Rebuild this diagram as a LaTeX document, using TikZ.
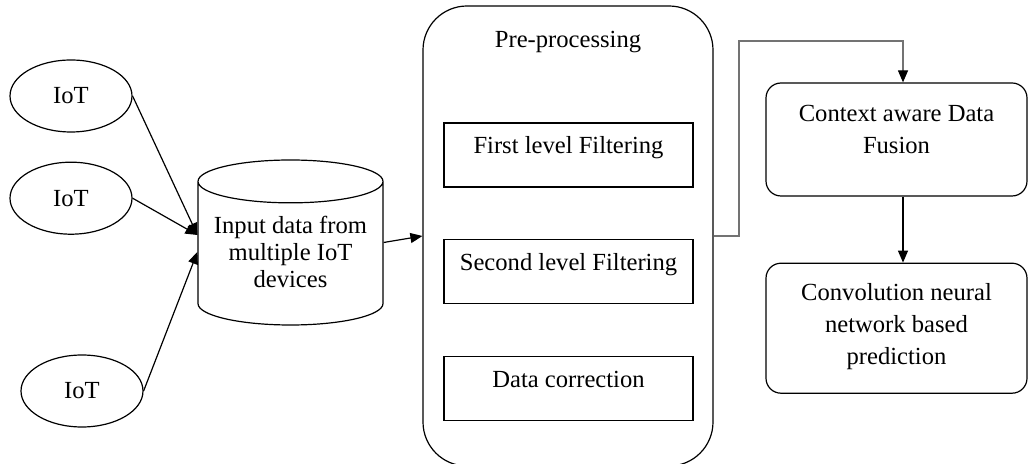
\documentclass[tikz,border=0pt]{standalone}
\usepackage{fontspec}
\setmainfont{Liberation Serif}
\usetikzlibrary{shapes.geometric, arrows.meta, positioning}

\begin{document}
\begin{tikzpicture}[x=0.5pt, y=-0.5pt, font=\fontsize{12.3pt}{14pt}\selectfont]
\tikzstyle{iotnode} = [ellipse, draw, line width=0.6pt, minimum width=61pt, minimum height=36pt, inner sep=0pt]
\tikzstyle{dbnode} = [cylinder, draw, line width=0.6pt, shape border rotate=90, aspect=0.28, minimum width=92.5pt, minimum height=82.5pt, align=center, inner sep=0pt, text height=34pt, text depth=0pt, font=\fontsize{12.3pt}{13.5pt}\selectfont]
\tikzstyle{prebox} = [rectangle, draw, line width=0.6pt, rounded corners=22pt, minimum width=145pt, minimum height=230pt]
\tikzstyle{filterbox} = [rectangle, draw, line width=0.6pt, minimum width=124.5pt, inner ysep=0pt, text height=15.5pt, text depth=16.5pt]
\tikzstyle{stagebox} = [rectangle, draw, line width=0.6pt, rounded corners=7.5pt, minimum width=130.5pt, align=center, font=\fontsize{12.3pt}{16pt}\selectfont]
\tikzstyle{arrow} = [line width=0.6pt, ->, >={Triangle[length=6pt, width=5pt, color=black]}]

\useasboundingbox (0,0) rectangle (1028,464);

\node (iot1) [iotnode] at (71,96) {IoT};
\node (iot2) [iotnode, below=14.5pt of iot1] {IoT};
\node (iot3) [iotnode] at (82,391) {IoT};
\node (input) [dbnode, anchor=shape center] at (290.5,242.5) {Input data from\\multiple IoT\\devices};
\coordinate (dbin) at (input.west |- input.shape center);
\coordinate (dbout) at (input.east |- input.shape center);

\node (pre) [prebox] at (568,236) {};
\node (pretitle) at (568,42) {Pre-processing};
\node (filter1) [filterbox] at (568.5,155) {First level Filtering};
\node (filter2) [filterbox, below=25.5pt of filter1] {Second level Filtering};
\node (correct) [filterbox, below=26pt of filter2] {Data correction};

\node (fusion) [stagebox, minimum height=56.5pt] at (896.5,139.5) {Context aware Data\\Fusion\\[-6pt]\mbox{}};
\node (cnn) [stagebox, minimum height=65pt, below=33pt of fusion] {Convolution neural\\network based\\prediction\\[-12pt]\mbox{}};
\coordinate (bend) at (739,41);

\draw [arrow] (iot1.east) -- ([yshift=3.75pt]dbin);
\draw [arrow] (iot2.east) -- ([yshift=3.75pt]dbin);
\draw [arrow] (iot3.east) -- ([yshift=-4.75pt]dbin);
\draw [arrow] (dbout) -- (pre.west);
\draw [arrow, black!55] (pre.east) -| (bend) -| ([xshift=3.25pt]fusion.north);
\draw [arrow] ([xshift=3.25pt]fusion.south) -- ([xshift=3.25pt]cnn.north);

\end{tikzpicture}
\end{document}
